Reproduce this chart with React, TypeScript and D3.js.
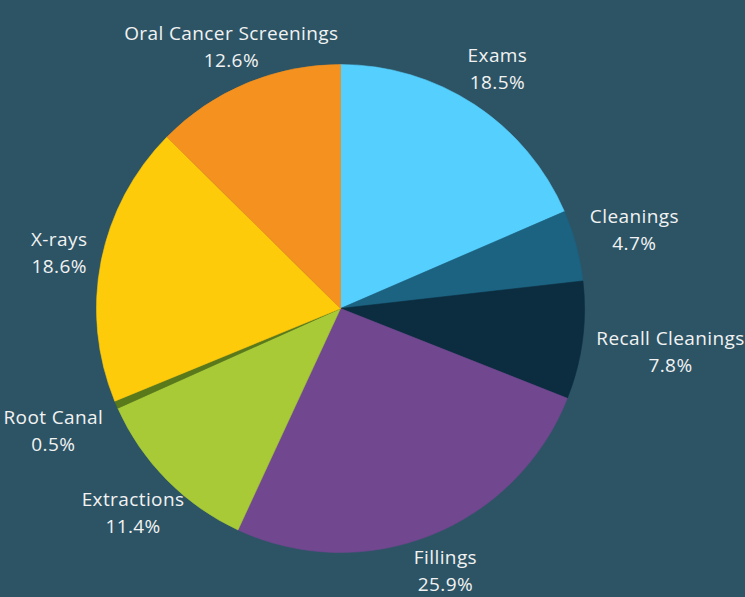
import React, { useMemo } from "react";
import * as d3 from "d3";

const categories = ["Exams", "Cleanings", "Recall Cleanings", "Fillings", "Extractions", "Root Canal", "X-rays", "Oral Cancer Screenings"];
const values = [18.5, 4.7, 7.8, 25.9, 11.4, 0.5, 18.6, 12.6];
const colors = ["#55cffd", "#1c6281", "#0b2d3f", "#71478f", "#a8ca37", "#59791a", "#fecb0b", "#f4911f"];

const W = 745;
const H = 597;
const CX = 340.5;
const CY = 308.5;
const R = 244;
const LABEL_R = 256;
const FONT = "'Open Sans', 'Noto Sans', sans-serif";
const FS = 19;
const LS = 0.4;
const LINE = 27;

function measure(text: string): number {
  const c = document.createElement("canvas").getContext("2d");
  if (!c) return text.length * 9.5;
  c.font = `${FS}px ${FONT}`;
  return c.measureText(text).width + LS * text.length;
}

export default function App() {
  const arcs = useMemo(() => {
    const pie = d3.pie<number>().sort(null).value((d) => d);
    return pie(values);
  }, []);
  const arcGen = d3.arc<d3.PieArcDatum<number>>().innerRadius(0).outerRadius(R);

  return (
    <svg width={W} height={H} style={{ position: "absolute", left: 0, top: 0, background: "#2c5465" }}>
      <rect width={W} height={H} fill="#2c5465" />
      <g transform={`translate(${CX},${CY})`}>
        {arcs.map((a, i) => (
          <path key={i} d={arcGen(a) || ""} fill={colors[i]} stroke={colors[i]} strokeWidth={0.6} strokeLinejoin="round" />
        ))}
        {arcs.map((a, i) => {
          const mid = (a.startAngle + a.endAngle) / 2;
          const s = Math.sin(mid);
          const c = Math.cos(mid);
          const pct = `${values[i].toFixed(1)}%`;
          const w = Math.max(measure(categories[i]), measure(pct)) + 4;
          const h = 50;
          const ext = Math.min(
            Math.abs(s) > 1e-6 ? w / 2 / Math.abs(s) : Infinity,
            Math.abs(c) > 1e-6 ? h / 2 / Math.abs(c) : Infinity
          );
          const r = LABEL_R + ext;
          const x = r * s;
          const y = -r * c;
          return (
            <text key={"l" + i} x={x} y={y} textAnchor="middle" fill="#f2f2f2" fontFamily={FONT} fontSize={FS} letterSpacing={LS}>
              <tspan x={x} dy={-LINE / 2 + 6}>{categories[i]}</tspan>
              <tspan x={x} dy={LINE}>{pct}</tspan>
            </text>
          );
        })}
      </g>
    </svg>
  );
}
